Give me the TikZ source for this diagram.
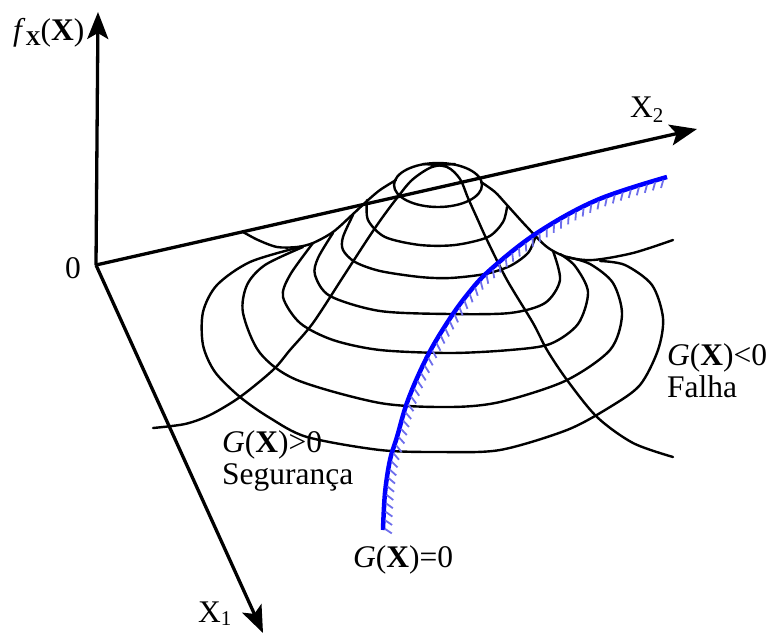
\documentclass[tikz,border=0pt]{standalone}
\usepackage{fontspec}
\setmainfont{Liberation Serif}
\usetikzlibrary{arrows.meta,decorations.markings}
\definecolor{hatchblue}{RGB}{110,110,235}
\begin{document}
\begin{tikzpicture}[x=1pt,y=-1pt,
  axis/.style={line width=3.3pt,-{Stealth[length=27pt,width=21pt,inset=6pt]}},
  cont/.style={line width=2.4pt,line cap=round,line join=round},
  lbl/.style={font=\fontsize{31.5}{37}\selectfont,inner sep=0pt},
  limit/.style={line width=4.5pt,color=blue},
  hatch/.style={postaction={decorate},decoration={markings,
     mark=between positions 0.005 and 1 step 8.5pt with {\draw[line width=1.8pt,color=hatchblue] (-122:2pt) -- (-122:10.5pt);}}}
]
\useasboundingbox (0,0) rectangle (773,635);

% axes
\coordinate (O) at (96,265);
\coordinate (ztip) at (98,12);
\coordinate (xtwo) at (697,129);
\coordinate (xone) at (263,633);
\draw[axis] (O) -- (ztip);
\draw[axis] (O) -- (xtwo);
\draw[axis] (O) -- (xone);

% top contour
\draw[cont] (438,185) ellipse [x radius=44, y radius=22];
% contours
\draw[cont] plot[smooth] coordinates {(367,200) (368,220) (385,237) (420,245) (455,245) (488,237) (503,222) (507,207)};
\draw[cont] plot[smooth] coordinates {(353,215) (343,237) (343,250) (355,262) (380,271) (420,277) (450,278) (485,274) (510,266) (528,253) (535,238)};
\draw[cont] plot[smooth] coordinates {(333,233) (318,258) (315,275) (330,296) (380,311) (450,314) (510,313) (545,303) (560,280) (553,251)};
\draw[cont] plot[smooth] coordinates {(313,243) (290,275) (283,297) (300,323) (333,340) (380,350) (450,353) (510,350) (550,344) (578,324) (588,292) (575,266) (560,254)};
\draw[cont] plot[smooth] coordinates {(303,247) (265,265) (247,285) (243,313) (260,353) (297,380) (380,403) (450,407) (500,402) (565,381) (610,350) (622,315) (613,283) (590,264) (567,257)};
\draw[cont] plot[smooth] coordinates {(300,247) (250,262) (217,285) (203,312) (203,345) (215,372) (240,397) (270,418) (307,437) (380,450) (440,452) (500,450) (567,430) (610,407) (640,385) (658,350) (663,318) (652,285) (625,265) (600,261)};

% meridians
\draw[cont] plot[smooth] coordinates {(396,180) (380,190) (367,201) (352,215) (333,232) (313,243) (297,247) (277,247) (258,240) (243,232)};
\draw[cont] plot[smooth] coordinates {(481,182) (495,192) (507,205) (527,227) (547,247) (567,257) (593,260) (633,253) (673,240)};
\draw[cont] plot[smooth] coordinates {(455,164) (432,167) (412,180) (397,198) (382,218) (367,240) (343,277) (313,323) (290,350) (273,370) (240,397) (210,415) (185,424) (153,428)};
\draw[cont] plot[smooth] coordinates {(423,164) (447,167) (460,179) (468,198) (477,218) (487,240) (507,280) (533,323) (547,350) (567,380) (597,417) (633,443) (673,457)};

% limit state
\draw[limit,hatch] plot[smooth,tension=0.6] coordinates {(383,530) (385,493) (390,460) (397,437) (408,400) (427,357) (447,323) (467,295) (490,270) (537,233) (597,200) (667,177)};

% labels
\node[lbl,anchor=base west] (fx) at (13,40) {\textit{f}\raisebox{-0.35ex}{\fontsize{21}{21}\selectfont\textbf{X}}(\textbf{X})};
\node[lbl,anchor=base] (zero) at (73,278) {0};
\node[lbl,anchor=base west] (x2) at (630,117) {X\raisebox{-0.35ex}{\fontsize{21}{21}\selectfont 2}};
\node[lbl,anchor=base west] (x1) at (198,622) {X\raisebox{-0.25ex}{\fontsize{21}{21}\selectfont 1}};
\node[lbl,anchor=base west] (gneg) at (667,365) {\textit{G}(\textbf{X})<0};
\node[lbl,anchor=base west] (falha) at (667,397) {Falha};
\node[lbl,anchor=base west] (gpos) at (222,452) {\textit{G}(\textbf{X})>0};
\node[lbl,anchor=base west] (seg) at (222,484) {Segurança};
\node[lbl,anchor=base west] (gzero) at (353,567) {\textit{G}(\textbf{X})=0};
\end{tikzpicture}
\end{document}
